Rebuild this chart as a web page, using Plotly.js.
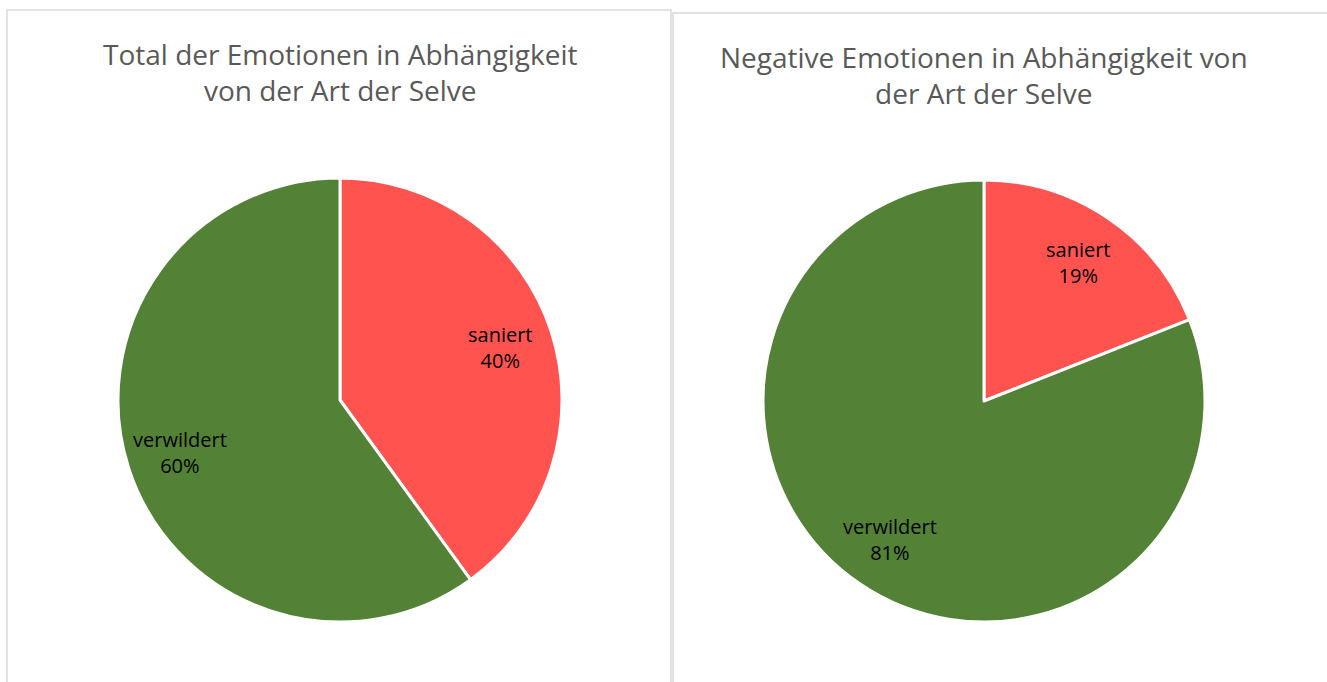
<!DOCTYPE html>
<html><head><meta charset="utf-8">
<script src="https://cdn.plot.ly/plotly-3.0.1.min.js"></script>
<style>html,body{margin:0;padding:0;background:#fff;}#chart{width:1327px;height:682px;}</style>
</head><body><div id="chart"></div>
<script>
const categories = ['saniert', 'verwildert'];
const totalValues = [40, 60];
const negativeValues = [19, 81];
const titles = ['Total der Emotionen in Abhängigkeit<br>von der Art der Selve', 'Negative Emotionen in Abhängigkeit von<br>der Art der Selve'];
const colors = ['#FF5350', '#538135'];

const W = 1327, H = 682;
const px = x => x / W, py = y => 1 - y / H;
const font = '"Open Sans", "Noto Sans", sans-serif';

const boxes = [
  {x0: 118, x1: 562, y0: 178, y1: 622, values: totalValues},
  {x0: 763, x1: 1205, y0: 180, y1: 622, values: negativeValues}
];

function pie(b) {
  return {
    type: 'pie', labels: categories, values: b.values, sort: false, direction: 'clockwise', rotation: 0,
    marker: {colors: colors, line: {color: '#ffffff', width: 3}},
    textinfo: 'none', hoverinfo: 'label+percent', showlegend: false,
    domain: {x: [px(b.x0), px(b.x1)], y: [py(b.y1), py(b.y0)]}
  };
}

const data = boxes.map(pie);

// data labels placed at the middle angle of each slice
const labelAnn = [];
boxes.forEach(b => {
  const cx = (b.x0 + b.x1) / 2, cy = (b.y0 + b.y1) / 2;
  const r = Math.min(b.x1 - b.x0, b.y1 - b.y0) / 2;
  const total = b.values.reduce((a, v) => a + v, 0);
  let acc = 0;
  b.values.forEach((v, i) => {
    const mid = (acc + v / 2) / total * 2 * Math.PI;
    acc += v;
    const lx = cx + 0.76 * r * Math.sin(mid);
    const ly = cy - 0.76 * r * Math.cos(mid);
    labelAnn.push({
      text: categories[i] + '<br>' + Math.round(v / total * 100) + '%',
      xref: 'paper', yref: 'paper', x: px(lx), y: py(ly), xanchor: 'center', yanchor: 'middle',
      showarrow: false, font: {family: font, size: 20, color: '#000000'}
    });
  });
});

const layout = {
  width: W, height: H, margin: {l: 0, r: 0, t: 0, b: 0},
  paper_bgcolor: '#ffffff', showlegend: false,
  shapes: [
    {type: 'rect', xref: 'paper', yref: 'paper', x0: px(7), x1: px(671), y0: py(700), y1: py(10), line: {color: '#D9D9D9', width: 1.5}},
    {type: 'rect', xref: 'paper', yref: 'paper', x0: px(673), x1: px(1340), y0: py(700), y1: py(13), line: {color: '#D9D9D9', width: 1.5}}
  ],
  annotations: [
    {text: titles[0], xref: 'paper', yref: 'paper', x: px(340), y: py(72), xanchor: 'center', yanchor: 'middle', showarrow: false, font: {family: font, size: 28, color: '#595959'}},
    {text: titles[1], xref: 'paper', yref: 'paper', x: px(984), y: py(75), xanchor: 'center', yanchor: 'middle', showarrow: false, font: {family: font, size: 28, color: '#595959'}}
  ].concat(labelAnn)
};

Plotly.newPlot('chart', data, layout, {displayModeBar: false, staticPlot: true});
</script></body></html>
